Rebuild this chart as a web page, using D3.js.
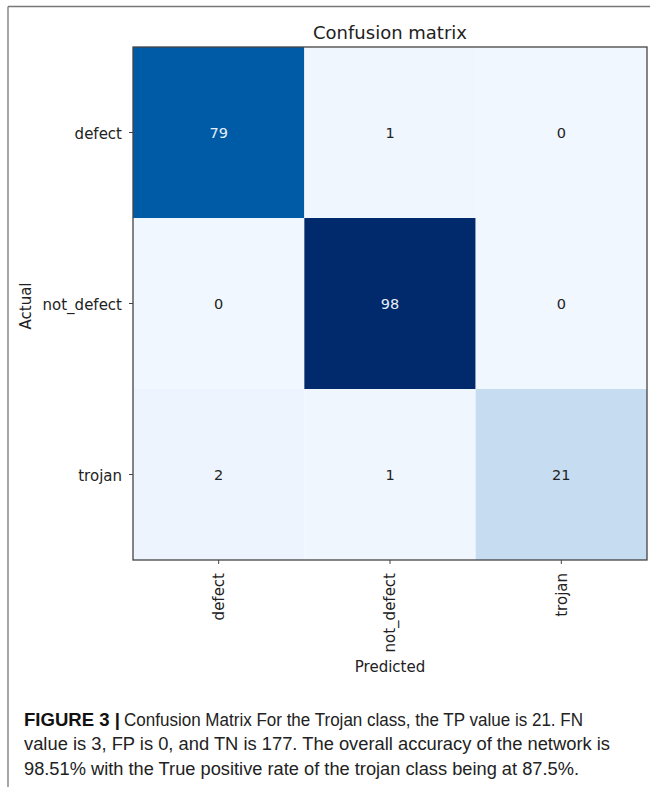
<!DOCTYPE html>
<html>
<head>
<meta charset="utf-8">
<script src="https://cdn.jsdelivr.net/npm/d3@7"></script>
<style>
  html, body { margin: 0; padding: 0; background: #fff; }
  svg { display: block; }
</style>
</head>
<body>
<svg id="chart" width="650" height="787"></svg>
<script>
// ---- data ----
const actualLabels = ["defect", "not_defect", "trojan"];
const predictedLabels = ["defect", "not_defect", "trojan"];
const rowDefect = [79, 1, 0];
const rowNotDefect = [0, 98, 0];
const rowTrojan = [2, 1, 21];
const matrixRows = [rowDefect, rowNotDefect, rowTrojan];
const colorStops = [0, 21, 79, 98];
const colorRange = ["#f1f7fe", "#c6dcf0", "#005ba6", "#002a6b"];
const chartTitle = "Confusion matrix";
const xTitle = "Predicted";
const yTitle = "Actual";
const captionBold = "FIGURE 3 |";
const captionLines = [
  "Confusion Matrix For the Trojan class, the TP value is 21. FN",
  "value is 3, FP is 0, and TN is 177. The overall accuracy of the network is",
  "98.51% with the True positive rate of the trojan class being at 87.5%."
];

// ---- layout ----
const svg = d3.select("#chart");
const pLeft = 133, pRight = 647, pTop = 47, pBottom = 560;

const x = d3.scaleBand().domain(predictedLabels).range([pLeft, pRight]);
const y = d3.scaleBand().domain(actualLabels).range([pTop, pBottom]);
const color = d3.scaleLinear().domain(colorStops).range(colorRange);
const maxVal = d3.max(matrixRows.flat());

// outer frame (top and left lines)
svg.append("line").attr("x1", 8).attr("x2", 650).attr("y1", 6.5).attr("y2", 6.5)
  .attr("stroke", "#777").attr("stroke-width", 1.3);
svg.append("line").attr("x1", 8).attr("x2", 8).attr("y1", 6.5).attr("y2", 787)
  .attr("stroke", "#777").attr("stroke-width", 1.3);

const cells = [];
matrixRows.forEach((row, i) => row.forEach((v, j) => cells.push({ r: actualLabels[i], c: predictedLabels[j], v })));

svg.append("g").selectAll("rect").data(cells).join("rect")
  .attr("x", d => x(d.c)).attr("y", d => y(d.r))
  .attr("width", x.bandwidth()).attr("height", y.bandwidth())
  .attr("fill", d => color(d.v));

svg.append("g").selectAll("text").data(cells).join("text")
  .attr("x", d => x(d.c) + x.bandwidth() / 2)
  .attr("y", d => y(d.r) + y.bandwidth() / 2)
  .attr("dy", "0.36em")
  .attr("text-anchor", "middle")
  .attr("font-family", "DejaVu Sans")
  .attr("font-size", 14.5)
  .attr("fill", d => d.v > maxVal / 2 ? "#e6eef8" : "#222")
  .text(d => d.v);

// axes frame
svg.append("rect").attr("x", pLeft).attr("y", pTop)
  .attr("width", pRight - pLeft).attr("height", pBottom - pTop)
  .attr("fill", "none").attr("stroke", "#444").attr("stroke-width", 1.3);

// x axis
const xAxis = svg.append("g").attr("transform", `translate(0,${pBottom})`)
  .call(d3.axisBottom(x).tickSize(4).tickSizeOuter(0));
xAxis.select(".domain").remove();
xAxis.selectAll(".tick line").attr("stroke", "#444");
xAxis.selectAll(".tick text")
  .attr("font-family", "DejaVu Sans").attr("font-size", 15).attr("fill", "#222")
  .attr("transform", "rotate(-90)")
  .attr("text-anchor", "end")
  .attr("x", -13).attr("y", 0).attr("dy", "0.35em");

// y axis
const yAxis = svg.append("g").attr("transform", `translate(${pLeft},0)`)
  .call(d3.axisLeft(y).tickSize(4).tickSizeOuter(0).tickPadding(7));
yAxis.select(".domain").remove();
yAxis.selectAll(".tick line").attr("stroke", "#444");
yAxis.selectAll(".tick text")
  .attr("font-family", "DejaVu Sans").attr("font-size", 15).attr("fill", "#222")
  .attr("dy", "0.45em");

// titles
svg.append("text").attr("x", (pLeft + pRight) / 2).attr("y", 39)
  .attr("text-anchor", "middle").attr("font-family", "DejaVu Sans")
  .attr("font-size", 18).attr("fill", "#222").text(chartTitle);

svg.append("text").attr("x", (pLeft + pRight) / 2).attr("y", 672)
  .attr("text-anchor", "middle").attr("font-family", "DejaVu Sans")
  .attr("font-size", 15).attr("fill", "#222").text(xTitle);

svg.append("text").attr("transform", `translate(31,306) rotate(-90)`)
  .attr("text-anchor", "middle").attr("font-family", "DejaVu Sans")
  .attr("font-size", 15).attr("fill", "#222").text(yTitle);

// caption
const capFont = "'Liberation Sans Narrow', 'Arial Narrow', 'Liberation Sans', sans-serif";
svg.append("text").attr("x", 24).attr("y", 725.5)
  .attr("font-family", capFont).attr("font-weight", "bold").attr("font-size", 17.5)
  .attr("fill", "#111")
  .attr("textLength", 96).attr("lengthAdjust", "spacingAndGlyphs")
  .text(captionBold);
const capEnds = [583, 610, 579];
const capStarts = [124, 24, 24];
const capBase = [725.5, 750, 774.5];
captionLines.forEach((t, i) => {
  svg.append("text").attr("x", capStarts[i]).attr("y", capBase[i])
    .attr("font-family", capFont).attr("font-size", 17.5).attr("fill", "#222")
    .attr("textLength", capEnds[i] - capStarts[i]).attr("lengthAdjust", "spacingAndGlyphs")
    .text(t);
});
</script>
</body>
</html>
